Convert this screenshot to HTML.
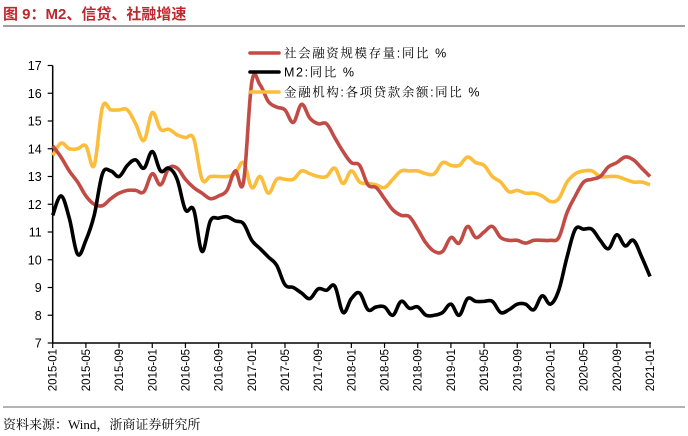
<!DOCTYPE html>
<html><head><meta charset="utf-8">
<style>
body{margin:0;background:#fff;width:688px;height:436px;overflow:hidden;font-family:"Liberation Sans","Noto Sans CJK SC",sans-serif;}
#title{position:absolute;left:3px;top:3px;font-size:15px;font-weight:bold;color:#c0272d;font-family:"Liberation Sans","Noto Sans CJK SC",sans-serif;}
#src{position:absolute;left:3px;top:414px;font-size:13px;color:#000;font-family:"Liberation Serif","Noto Serif CJK SC",serif;}
</style></head><body>
<div id="title">图 9：M2、信贷、社融增速</div>
<svg id="chart" width="688" height="436" style="position:absolute;left:0;top:0">
<line x1="3" y1="26" x2="685" y2="26" stroke="#666" stroke-width="1.2"/>
<line x1="3" y1="407" x2="685" y2="407" stroke="#888" stroke-width="1.2"/>
<g id="axes"></g><g id="series"></g><g id="legend"></g>
</svg>
<div id="src">资料来源：Wind，浙商证券研究所</div>
<script>
const xTickLabels=["2015-01","2015-05","2015-09","2016-01","2016-05","2016-09","2017-01","2017-05","2017-09","2018-01","2018-05","2018-09","2019-01","2019-05","2019-09","2020-01","2020-05","2020-09","2021-01"];
const yTicks=[7,8,9,10,11,12,13,14,15,16,17];
const socialFinancing=[14.1,13.7,13.2,12.8,12.3,12.0,11.95,12.2,12.4,12.5,12.5,12.45,13.1,12.7,13.3,13.3,12.9,12.6,12.4,12.2,12.3,12.5,13.2,12.8,16.4,16.3,15.7,15.5,15.4,14.95,15.6,15.1,14.9,14.9,14.4,13.9,13.5,13.4,12.7,12.6,12.2,11.8,11.6,11.55,11.1,10.6,10.3,10.3,10.8,10.6,11.2,10.8,11.0,11.2,10.8,10.7,10.7,10.6,10.7,10.7,10.7,10.8,11.7,12.3,12.8,12.9,13.0,13.35,13.5,13.7,13.6,13.3,13.0];
const m2=[11.6,12.3,11.5,10.2,10.7,11.6,13.1,13.2,13.0,13.4,13.6,13.3,13.9,13.2,13.3,12.9,11.8,11.8,10.3,11.4,11.5,11.55,11.4,11.3,10.7,10.4,10.1,9.8,9.1,9.0,8.8,8.6,8.95,8.9,9.05,8.1,8.6,8.8,8.2,8.3,8.3,8.0,8.5,8.25,8.3,8.0,8.0,8.1,8.4,8.0,8.6,8.5,8.5,8.5,8.1,8.2,8.4,8.4,8.2,8.7,8.4,8.9,10.1,11.1,11.1,11.1,10.7,10.4,10.9,10.5,10.7,10.1,9.4];
const loans=[13.76,14.2,14.0,14.0,14.1,13.4,15.5,15.4,15.4,15.4,14.9,14.3,15.3,14.7,14.7,14.5,14.4,14.36,12.9,13.0,13.0,13.0,13.1,13.5,12.6,13.0,12.4,12.9,12.9,12.9,13.2,13.1,13.0,13.0,13.3,12.75,13.2,12.8,12.75,12.7,12.6,12.9,13.2,13.2,13.2,13.1,13.1,13.5,13.4,13.4,13.7,13.5,13.4,13.0,12.8,12.45,12.5,12.4,12.4,12.3,12.1,12.2,12.8,13.1,13.2,13.2,13.0,13.0,13.0,12.9,12.8,12.8,12.7];

const NS="http://www.w3.org/2000/svg";
const X0=52.7,X1=650,Y0=343,Y1=65.5,NM=72;
const xs=i=>X0+i*(X1-X0)/NM;
const ys=v=>Y0-(v-7)*(Y0-Y1)/10;
function mk(tag,attrs,parent){const e=document.createElementNS(NS,tag);for(const k in attrs)e.setAttribute(k,attrs[k]);parent.appendChild(e);return e;}
const axes=document.getElementById('axes');
let a=mk('line',{x1:X0,y1:Y1,x2:X0,y2:Y0,stroke:'#000','stroke-width':1.5},axes);


a=mk('line',{x1:X0,y1:Y0,x2:X1+1,y2:Y0,stroke:'#000','stroke-width':1.5},axes);


yTicks.forEach(v=>{
 const y=ys(v);
 mk('line',{x1:X0-5,y1:y,x2:X0,y2:y,stroke:'#000','stroke-width':1.2},axes);
 const t=mk('text',{x:X0-11,y:y+4.5,'text-anchor':'end','font-size':'12.5',fill:'#000','font-family':'Liberation Sans, sans-serif'},axes);
 t.textContent=v;
 
 
});
xTickLabels.forEach((lab,k)=>{
 const x=xs(k*4);
 mk('line',{x1:x,y1:Y0,x2:x,y2:Y0+5,stroke:'#000','stroke-width':1.2},axes);
 const t=mk('text',{x:0,y:0,'text-anchor':'end','font-size':'11.5',fill:'#000','font-family':'Liberation Sans, sans-serif',transform:`translate(${x+4},${Y0+6}) rotate(-90)`},axes);
 t.textContent=lab;
 
 
});
function smooth(vals){
 const p=vals.map((v,i)=>[xs(i),ys(v)]);
 let d=`M${p[0][0]},${p[0][1]}`;
 for(let i=0;i<p.length-1;i++){
  const p0=p[i-1]||p[i],p1=p[i],p2=p[i+1],p3=p[i+2]||p2,t=0.18;
  d+=` C${p1[0]+(p2[0]-p0[0])*t},${p1[1]+(p2[1]-p0[1])*t} ${p2[0]-(p3[0]-p1[0])*t},${p2[1]-(p3[1]-p1[1])*t} ${p2[0]},${p2[1]}`;
 }
 return d;
}
const ser=document.getElementById('series');
let s=mk('path',{d:smooth(loans),fill:'none',stroke:'#fbbd3a','stroke-width':3.6,'stroke-linejoin':'round'},ser);


s=mk('path',{d:smooth(socialFinancing),fill:'none',stroke:'#c24b46','stroke-width':3.6,'stroke-linejoin':'round'},ser);


s=mk('path',{d:smooth(m2),fill:'none',stroke:'#000','stroke-width':3.6,'stroke-linejoin':'round'},ser);


const leg=document.getElementById('legend');
[["社会融资规模存量:同比 %","#c24b46",53],["M2:同比 %","#000",72],["金融机构:各项贷款余额:同比 %","#fbbd3a",92]].forEach(r=>{
 const g=mk('g',{},leg);
 
 
 mk('line',{x1:250,y1:r[2],x2:279,y2:r[2],stroke:r[1],'stroke-width':3.6,'stroke-linecap':'round'},g);
 const t=mk('text',{x:284,y:r[2]+4.5,'font-size':'12.5','letter-spacing':'1.6',fill:'#000','font-family':'Liberation Sans, Noto Serif CJK SC, serif'},g);
 t.textContent=r[0];
});
</script>
</body></html>
